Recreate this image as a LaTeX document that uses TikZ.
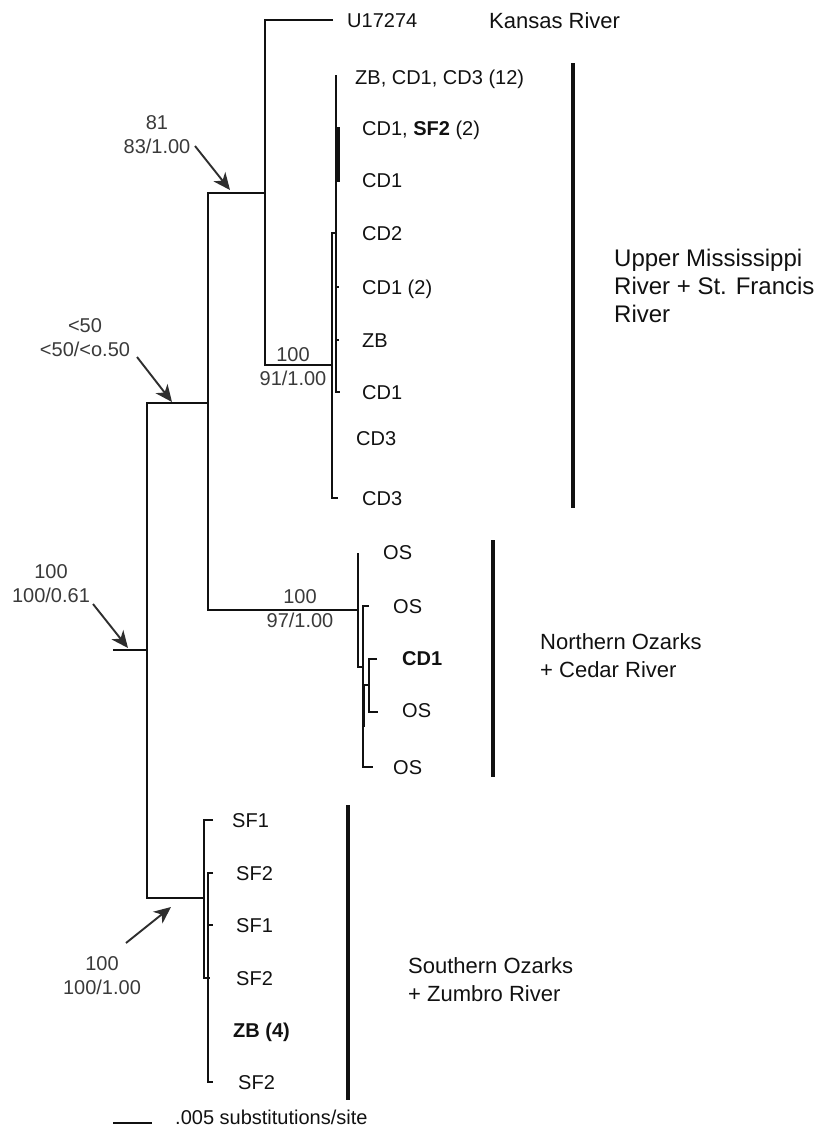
\documentclass[tikz,border=0pt]{standalone}
\usepackage{fontspec}
\setmainfont{Liberation Sans}
\usetikzlibrary{arrows.meta,positioning}
\definecolor{tline}{HTML}{111111}
\definecolor{tsupp}{HTML}{3A3A3A}
\definecolor{tarrow}{HTML}{2E2E2E}
\newcommand{\leafsize}{\fontsize{20}{24}\selectfont}
\newcommand{\cladesize}{\fontsize{22}{28}\selectfont}

\begin{document}
\begin{tikzpicture}[x=1pt, y=-1pt,
  br/.style={line width=1.4pt, tline},
  heavy/.style={line width=3pt, tline},
  cladebar/.style={line width=3.3pt, tline},
  leaf/.style={anchor=base west, inner sep=0pt, font=\leafsize, text=tline, yshift=-7pt},
  clade/.style={anchor=west, inner sep=0pt, font=\cladesize, align=left, text=tline},
  supp/.style={inner sep=0pt, font=\leafsize, align=center, text=tsupp},
  pointer/.style={-{Stealth[length=17pt, width=15pt, inset=5pt]}, line width=1.9pt, tarrow}]
\useasboundingbox (0,0) rectangle (835,1130);
% ---- backbone nodes ----
\coordinate (root) at (113,650);
\coordinate (n0) at (147,650);
\coordinate (nA) at (208,403);
\coordinate (nK) at (265,193);
\coordinate (nU) at (332,365);
\coordinate (nN) at (358,610);
\coordinate (nS) at (204,898);
\coordinate (tU) at (333,20);
\draw[br] (root) -- (n0);
\draw[br] (nA) -- (nA -| n0) -- (nS -| n0) -- (nS);
\draw[br] (nK) -- (nK -| nA) -- (nN -| nA) -- (nN);
\draw[br] (tU) -- (tU -| nK) -- (nU -| nK) -- (nU);
% ---- upper mississippi clade ----
\draw[br] (337,233) -- (332,233) -- (332,498) -- (338,498);
\draw[br] (336,75) -- (336,392) -- (340,392);
\draw[heavy] (338,127) -- (338,182);
\foreach \y in {287,340}
  \draw[br] (336,\y) -- (339,\y);
% ---- northern ozarks clade ----
\draw[br] (358,553) -- (358,667) -- (362,667);
\draw[br] (369,606) -- (363,606) -- (363,767) -- (373,767);
\draw[br] (377,659) -- (369,659) -- (369,712) -- (378,712);
\draw[br] (363,685) -- (369,685);
\draw[heavy] (363,685) -- (363,727);
% ---- southern ozarks clade ----
\draw[br] (213,820) -- (204,820) -- (204,978) -- (210,978);
\draw[br] (213,873) -- (208,873) -- (208,1082) -- (213,1082);
\draw[br] (208,925) -- (213,925);
% ---- tip labels ----
\node[leaf] (lU) at (347,20) {U17274};
\foreach \x/\y/\txt [count=\i] in {355/77/{ZB, CD1, CD3 (12)},
    362/128/{CD1, \textbf{SF2} (2)}, 362/180/CD1, 362/233/CD2,
    362/287/{CD1 (2)}, 362/340/ZB, 362/392/CD1, 356/438/CD3, 362/498/CD3}
  \node[leaf] (um\i) at (\x,\y) {\txt};
\foreach \x/\y/\txt [count=\i] in {383/552/OS, 393/606/OS,
    402/658/\textbf{CD1}, 402/710/OS, 393/767/OS}
  \node[leaf] (no\i) at (\x,\y) {\txt};
\foreach \x/\y/\txt [count=\i] in {232/820/SF1, 236/873/SF2, 236/925/SF1,
    236/978/SF2, 233/1030/\textbf{ZB (4)}, 238/1082/SF2}
  \node[leaf] (so\i) at (\x,\y) {\txt};
% ---- clade bars and names ----
\draw[cladebar] (573,63) -- (573,508);
\draw[cladebar] (493,540) -- (493,777);
\draw[cladebar] (348,805) -- (348,1100);
\node[leaf, font=\cladesize, yshift=-1pt] (kR) at (489,20) {Kansas River};
\node[clade, font=\fontsize{24}{28}\selectfont] (cUM) at (614,286) {Upper Mississippi\\River + St. Francis\\River};
\node[clade] (cNO) at (540,656) {Northern Ozarks\\+ Cedar River};
\node[clade] (cSO) at (408,980) {Southern Ozarks\\+ Zumbro River};
% ---- support values ----
\node[supp] (sK) at (157,135) {81\\83/1.00};
\node[supp] (sA) at (85,338) {<50\\<50/<o.50};
\node[supp] (s0) at (51,584) {100\\100/0.61};
\node[supp] (sS) at (102,976) {100\\100/1.00};
\node[supp] (sU) at (293,367) {100\\91/1.00};
\node[supp] (sN) at (300,609) {100\\97/1.00};
% ---- pointers ----
\coordinate (pK) at (195,146);  \coordinate (qK) at (230,190);
\coordinate (pA) at (137,357);  \coordinate (qA) at (172,402);
\coordinate (p0) at (93,604);   \coordinate (q0) at (128,648);
\coordinate (pS) at (126,943);  \coordinate (qS) at (171,907);
\foreach \n in {K,A,0,S}
  \draw[pointer] (p\n) -- (q\n);
% ---- scale ----
\coordinate (sc1) at (113,1123);
\coordinate (sc2) at (152,1123);
\draw[br] (sc1) -- (sc2);
\node[leaf, yshift=3pt] (scl) at (175,1120) {.005 substitutions/site};
\end{tikzpicture}
\end{document}
